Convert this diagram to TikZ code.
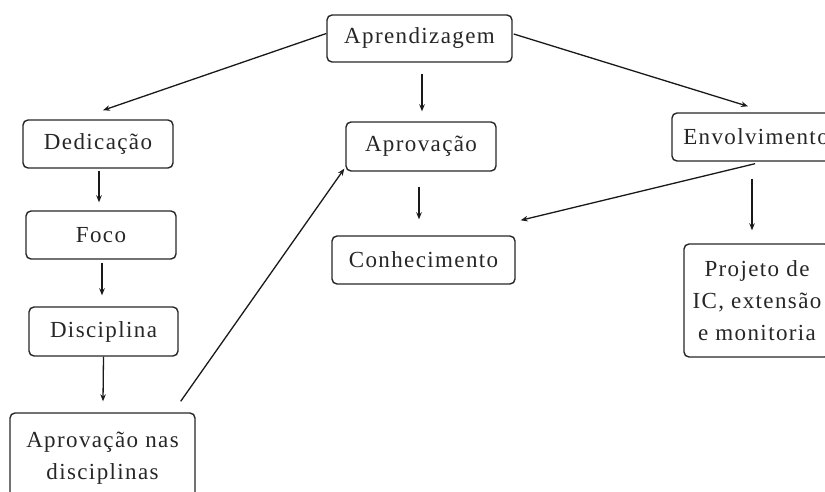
\documentclass[tikz,border=0pt]{standalone}
\usepackage{fontspec}
\setmainfont{Liberation Serif}[LetterSpace=6]
\usetikzlibrary{arrows.meta,calc}
\begin{document}
\begin{tikzpicture}[x=1pt,y=-1pt,
  box/.style={draw=black!85,line width=1.4pt,rounded corners=5pt,align=center,
    font=\fontsize{23}{32}\selectfont,text=black!85,inner sep=0pt},
  arr/.style={-{Stealth[length=7pt,width=5.5pt]},line width=1.3pt,draw=black!90}]
\useasboundingbox (0,0) rectangle (825,492);
\node[box,minimum width=185pt,minimum height=47pt] (apr) at (419.5,38.5) {Aprendizagem};
\node[box,minimum width=150pt,minimum height=48pt] (ded) at (98,144) {Dedicação};
\node[box,minimum width=150pt,minimum height=48pt] (foco) at (101,235) {Foco};
\node[box,minimum width=149pt,minimum height=49pt] (disc) at (103.5,331.5) {Disciplina};
\node[box,minimum width=185pt,minimum height=90pt] (aprn) at (102.5,458) {Aprovação nas\\disciplinas};
\node[box,minimum width=150pt,minimum height=49pt] (aprov) at (421,146.5) {Aprovação};
\node[box,minimum width=183pt,minimum height=48pt] (con) at (423.5,260) {Conhecimento};
\node[box,minimum width=168pt,minimum height=48pt] (env) at (756,137) {Envolvimento};
\node[box,minimum width=146pt,minimum height=113pt] (proj) at (757,300.5) {Projeto de\\IC, extensão\\e monitoria};
\draw[arr] ($(apr.west)+(0,-5)$) -- ($(ded.north)+(5,-9)$);
\draw[arr] ($(apr.south)+(2.5,11)$) -- ($(aprov.north)+(1,-10)$);
\draw[arr] ($(apr.east)+(1,-4.5)$) -- ($(env.north)+(-8,-6)$);
\draw[arr] ($(env.south)+(-1,2)$) -- ($(con.north east)+(5,-15)$);
\draw[arr] ($(env.south)+(-4,17)$) -- ($(proj.north)+(-5,-13)$);
\draw[arr] ($(aprov.south)+(-2,15)$) -- ($(con.north)+(-4.5,-16)$);
\draw[arr] ($(ded.south)+(1,2)$) -- ($(foco.north)+(-2,-8)$);
\draw[arr] ($(foco.south)+(1,3)$) -- ($(disc.north)+(-1.5,-11)$);
\draw[arr] ($(disc.south)+(0,0)$) -- ($(aprn.north)+(0.5,-11)$);
\draw[arr] ($(aprn.north east)+(-15,-11)$) -- ($(aprov.south west)+(-1,-3)$);
\end{tikzpicture}
\end{document}
